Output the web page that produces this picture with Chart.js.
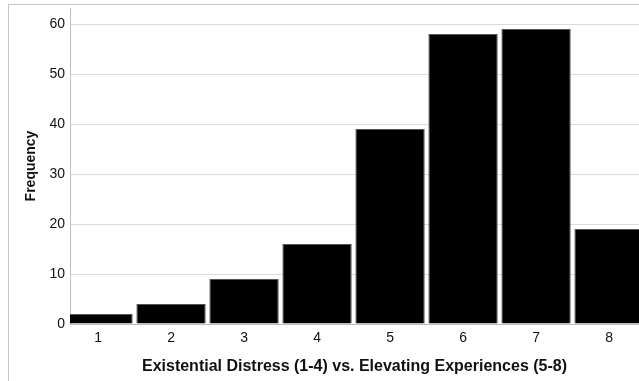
<!DOCTYPE html>
<html lang="en">
<head>
<meta charset="UTF-8">
<title>Existential Distress vs. Elevating Experiences</title>
<script src="https://cdn.jsdelivr.net/npm/chart.js"></script>
<style>
    body { margin: 0; background: #fff; }
    #frame {
        position: absolute; left: 8px; top: 4px; width: 700px; height: 400px;
        border: 1px solid #c4c4c4;
    }
    #wrap { position: absolute; left: 0; top: 0; width: 639px; height: 381px; }
</style>
</head>
<body>
<div id="frame"></div>
<div id="wrap"><canvas id="chart"></canvas></div>
<script>
    // scores 1-8 and how many respondents got each
    var scores = [1, 2, 3, 4, 5, 6, 7, 8];
    var counts = [2, 4, 9, 16, 39, 58, 59, 19];
    var yTicks = [0, 10, 20, 30, 40, 50, 60];

    var ctx = document.getElementById('chart').getContext('2d');
    new Chart(ctx, {
        type: 'bar',
        data: {
            datasets: [{
                label: 'Frequency',
                data: scores.map(function (s, i) { return { x: s, y: counts[i] }; }),
                backgroundColor: '#000',
                borderColor: '#555',
                borderWidth: 1,
                barPercentage: 0.95,
                categoryPercentage: 1
            }]
        },
        options: {
            responsive: true,
            maintainAspectRatio: false,
            animation: false,
            layout: { padding: { top: 8, left: 0, right: 0, bottom: 0 } },
            plugins: { legend: { display: false }, tooltip: { enabled: false } },
            scales: {
                x: {
                    type: 'linear',
                    offset: false,
                    min: 0.616,
                    max: 8.41,
                    afterBuildTicks: function (axis) {
                        axis.ticks = scores.map(function (v) { return { value: v }; });
                    },
                    afterFit: function (axis) { axis.height = 57; },
                    grid: { display: false, drawTicks: false },
                    border: { color: '#bdbdbd', width: 1 },
                    ticks: {
                        color: '#111',
                        font: { family: 'Liberation Sans, Arial', size: 14 },
                        padding: 6,
                        maxRotation: 0
                    },
                    title: {
                        display: true,
                        text: 'Existential Distress (1-4) vs. Elevating Experiences (5-8)',
                        color: '#111',
                        font: { family: 'Liberation Sans, Arial', size: 16, weight: 'bold' },
                        padding: { top: 8, bottom: 5 }
                    }
                },
                y: {
                    min: 0,
                    max: 63.2,
                    afterBuildTicks: function (axis) {
                        axis.ticks = yTicks.map(function (v) { return { value: v }; });
                    },
                    afterFit: function (axis) {
                        axis.width = 70;
                        axis.paddingTop = 0;
                    },
                    grid: { color: '#dcdcdc', drawTicks: false },
                    border: { color: '#bdbdbd', width: 1 },
                    ticks: {
                        color: '#111',
                        font: { family: 'Liberation Sans, Arial', size: 14 },
                        padding: 5
                    },
                    title: {
                        display: true,
                        text: 'Frequency',
                        color: '#111',
                        font: { family: 'Liberation Sans, Arial', size: 14, weight: 'bold' },
                        padding: { top: 23, bottom: 0 }
                    }
                }
            }
        }
    });
</script>
</body>
</html>
